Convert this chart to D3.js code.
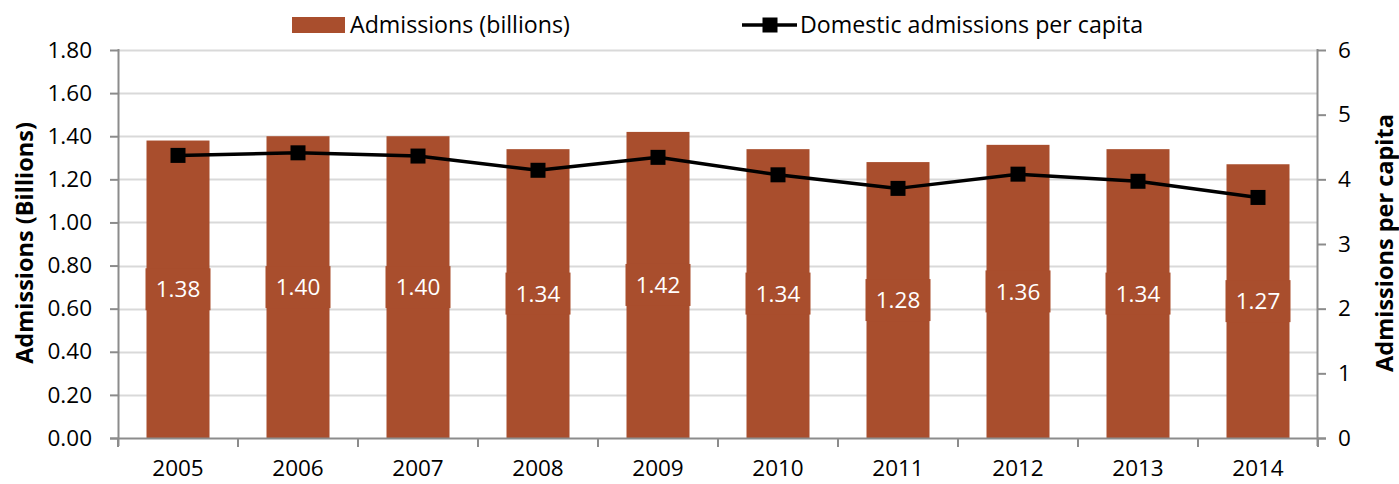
<!DOCTYPE html>
<html>
<head>
<meta charset="utf-8">
<script src="https://cdn.jsdelivr.net/npm/d3@7/dist/d3.min.js"></script>
<style>
  html, body { margin: 0; padding: 0; background: #fff; }
  svg { display: block; }
  text { font-family: "Open Sans", sans-serif; }
</style>
</head>
<body>
<svg id="chart" width="1399" height="484"></svg>
<script>
// Cinema admissions, 2005–2014
const years = ["2005", "2006", "2007", "2008", "2009", "2010", "2011", "2012", "2013", "2014"];
const admissions = [1.38, 1.40, 1.40, 1.34, 1.42, 1.34, 1.28, 1.36, 1.34, 1.27];
const perCapita = [4.37, 4.41, 4.36, 4.14, 4.34, 4.07, 3.86, 4.08, 3.97, 3.72];
const leftTicks = [0, 0.2, 0.4, 0.6, 0.8, 1.0, 1.2, 1.4, 1.6, 1.8];
const rightTicks = [0, 1, 2, 3, 4, 5, 6];

const barColor = "#A94E2D";
const gridColor = "#D9D9D9";
const axisColor = "#8C8C8C";
const fontSize = 22.5;
const legendSize = 23.2;
const titleSize = 23.5;

const svg = d3.select("#chart");
const margin = { left: 118, right: 1318, top: 50, bottom: 438 };

const x = d3.scaleBand().domain(years).range([margin.left, margin.right]).paddingInner(0.475).paddingOuter(0.2375);
const yL = d3.scaleLinear().domain([0, 1.8]).range([margin.bottom, margin.top]);
const yR = d3.scaleLinear().domain([0, 6]).range([margin.bottom, margin.top]);

// horizontal gridlines
svg.append("g")
  .selectAll("line")
  .data(leftTicks.slice(1))
  .join("line")
  .attr("x1", margin.left).attr("x2", margin.right)
  .attr("y1", d => Math.round(yL(d)) + 0.5).attr("y2", d => Math.round(yL(d)) + 0.5)
  .attr("stroke", gridColor).attr("stroke-width", 2);

// bars
svg.append("g")
  .selectAll("rect")
  .data(years)
  .join("rect")
  .attr("x", d => x(d))
  .attr("width", x.bandwidth())
  .attr("y", (d, i) => yL(admissions[i]))
  .attr("height", (d, i) => yL(0) - yL(admissions[i]))
  .attr("fill", barColor);

// axes
const fmt2 = d3.format(".2f");
const leftAxis = svg.append("g")
  .attr("transform", `translate(${margin.left},0)`)
  .call(d3.axisLeft(yL).tickValues(leftTicks).tickFormat(fmt2).tickSizeOuter(0).tickSize(8).tickPadding(18));
const rightAxis = svg.append("g")
  .attr("transform", `translate(${margin.right},0)`)
  .call(d3.axisRight(yR).tickValues(rightTicks).tickFormat(d3.format("d")).tickSizeOuter(0).tickSize(8).tickPadding(12));

// category axis with ticks on band boundaries
const edges = years.map(d => x(d) - x.step() * x.paddingInner() / 2).concat([margin.right]);
const bottomAxis = svg.append("g").attr("transform", `translate(0,${margin.bottom})`);
bottomAxis.append("line")
  .attr("x1", margin.left - 8).attr("x2", margin.right + 8)
  .attr("y1", 0.5).attr("y2", 0.5)
  .attr("stroke", axisColor).attr("stroke-width", 2);
bottomAxis.selectAll("line.tick")
  .data(edges)
  .join("line").attr("class", "tick")
  .attr("x1", d => d).attr("x2", d => d)
  .attr("y1", 0).attr("y2", 9)
  .attr("stroke", axisColor).attr("stroke-width", 2);
bottomAxis.selectAll("text")
  .data(years)
  .join("text")
  .attr("x", d => x(d) + x.bandwidth() / 2)
  .attr("y", 38)
  .attr("text-anchor", "middle")
  .attr("font-size", fontSize)
  .attr("fill", "#000")
  .text(d => d);

[leftAxis, rightAxis].forEach(g => {
  g.select(".domain").attr("stroke", axisColor).attr("stroke-width", 2);
  g.selectAll(".tick line").attr("stroke", axisColor).attr("stroke-width", 2);
  g.selectAll(".tick text").attr("font-size", fontSize).attr("fill", "#000").attr("font-family", "Open Sans, sans-serif");
});
leftAxis.select(".domain").attr("d", `M0.5,${margin.top - 1}V${margin.bottom + 8}`);
rightAxis.select(".domain").attr("d", `M-0.5,${margin.top - 1}V${margin.bottom + 8}`);

// per-capita line
const line = d3.line()
  .x((d, i) => x(years[i]) + x.bandwidth() / 2)
  .y(d => yR(d));
svg.append("path")
  .datum(perCapita)
  .attr("d", line)
  .attr("fill", "none")
  .attr("stroke", "#000")
  .attr("stroke-width", 3.5)
  .attr("stroke-linejoin", "round");

const mk = 15;
svg.append("g")
  .selectAll("rect")
  .data(perCapita)
  .join("rect")
  .attr("x", (d, i) => x(years[i]) + x.bandwidth() / 2 - mk / 2)
  .attr("y", d => yR(d) - mk / 2)
  .attr("width", mk).attr("height", mk)
  .attr("fill", "#000");

// value labels on filled boxes at bar centres
const labels = svg.append("g");
years.forEach((yr, i) => {
  const cy = (yL(admissions[i]) + yL(0)) / 2;
  labels.append("rect")
    .attr("x", x(yr) - 1)
    .attr("width", x.bandwidth() + 2)
    .attr("y", cy - 21)
    .attr("height", 42)
    .attr("fill", barColor);
  labels.append("text")
    .attr("x", x(yr) + x.bandwidth() / 2)
    .attr("y", cy)
    .attr("dy", "0.36em")
    .attr("text-anchor", "middle")
    .attr("font-size", fontSize)
    .attr("fill", "#fff")
    .text(fmt2(admissions[i]));
});

// axis titles
svg.append("text")
  .attr("transform", `translate(33,${(margin.top + margin.bottom) / 2 - 1}) rotate(-90)`)
  .attr("text-anchor", "middle")
  .attr("font-size", titleSize)
  .attr("font-weight", "bold")
  .text("Admissions (Billions)");
svg.append("text")
  .attr("transform", `translate(1393,${(margin.top + margin.bottom) / 2 - 1}) rotate(-90)`)
  .attr("text-anchor", "middle")
  .attr("font-size", titleSize)
  .attr("font-weight", "bold")
  .text("Admissions per capita");

// legend
const legend = svg.append("g");
legend.append("rect").attr("x", 292).attr("y", 17).attr("width", 53).attr("height", 16).attr("fill", barColor);
legend.append("text").attr("x", 350).attr("y", 25).attr("dy", "0.36em").attr("font-size", legendSize).text("Admissions (billions)");
legend.append("line").attr("x1", 742).attr("x2", 797).attr("y1", 25).attr("y2", 25).attr("stroke", "#000").attr("stroke-width", 3.5);
legend.append("rect").attr("x", 770 - mk / 2).attr("y", 25 - mk / 2).attr("width", mk).attr("height", mk).attr("fill", "#000");
legend.append("text").attr("x", 800).attr("y", 25).attr("dy", "0.36em").attr("font-size", legendSize).text("Domestic admissions per capita");
</script>
</body>
</html>
